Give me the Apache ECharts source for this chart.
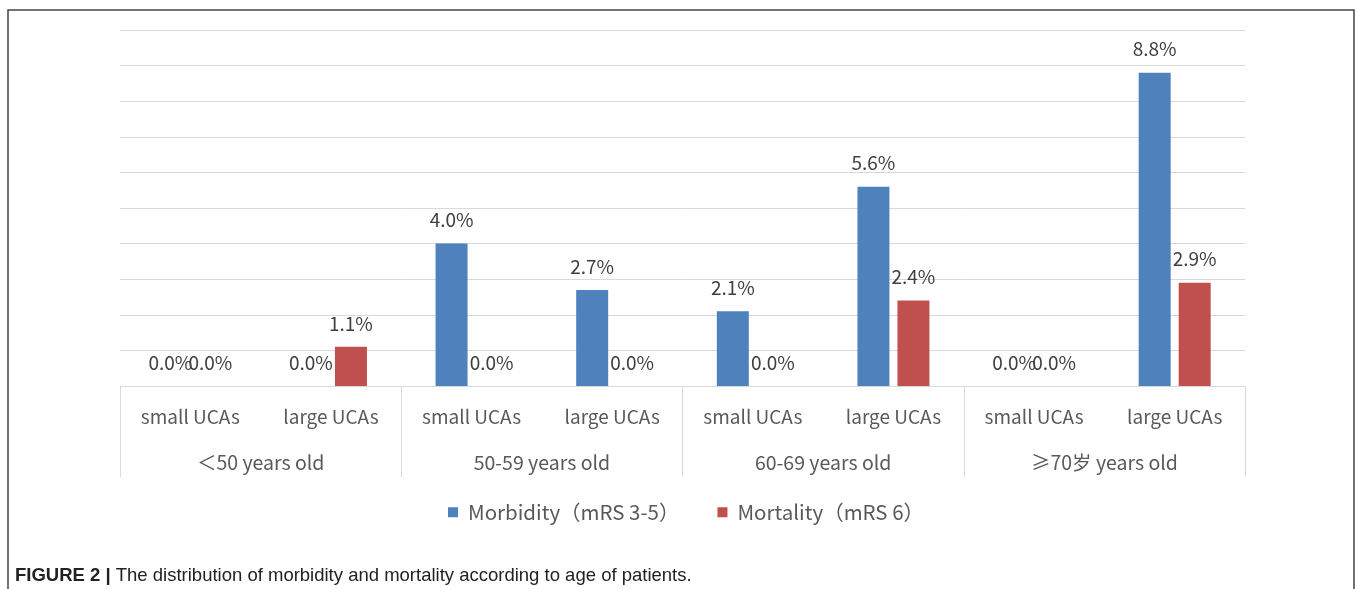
<!DOCTYPE html>
<html>
<head>
<meta charset="utf-8">
<script src="https://cdn.jsdelivr.net/npm/echarts@6/dist/echarts.min.js"></script>
<style>
  html, body { margin: 0; padding: 0; background: #fff; }
  #chart { width: 1357px; height: 589px; }
</style>
</head>
<body>
<div id="chart"></div>
<script>
// Sub-categories (bar slots) and the age groups they belong to
const categories = ['small UCAs', 'large UCAs', 'small UCAs', 'large UCAs',
                    'small UCAs', 'large UCAs', 'small UCAs', 'large UCAs'];
const ageGroups = ['＜50 years old', '50-59 years old', '60-69 years old', '≥70岁 years old'];

// Rates in percent
const morbidity = [0.0, 0.0, 4.0, 2.7, 2.1, 5.6, 0.0, 8.8];
const mortality = [0.0, 1.1, 0.0, 0.0, 0.0, 2.4, 0.0, 2.9];

const seriesNames = ['Morbidity（mRS 3-5）', 'Mortality（mRS 6）'];

const FONT = '"Noto Sans CJK SC", "Noto Sans", sans-serif';
const CAPTION_FONT = '"Liberation Sans", Arial, sans-serif';
const GRID_COLOR = '#d9d9d9';

const chart = echarts.init(document.getElementById('chart'), null, { renderer: 'canvas' });

const valueLabel = {
  show: true,
  position: 'top',
  distance: 14,
  fontFamily: FONT,
  fontSize: 19,
  color: '#404040',
  formatter: p => p.value.toFixed(1) + '%'
};

chart.setOption({
  animation: false,
  backgroundColor: '#fff',
  title: {
    left: 10,
    top: 561,
    text: '{b|FIGURE 2 |} The distribution of morbidity and mortality according to age of patients.',
    textStyle: {
      fontFamily: CAPTION_FONT,
      fontSize: 18.5,
      fontWeight: 'normal',
      color: '#222',
      rich: {
        b: { fontFamily: CAPTION_FONT, fontSize: 18.5, fontWeight: 'bold', color: '#222' }
      }
    }
  },
  graphic: [{
    type: 'polyline',
    shape: { points: [[8, 600], [8, 10], [1354, 10], [1354, 600]] },
    style: { stroke: '#444', lineWidth: 1.5, fill: null },
    silent: true
  }],
  legend: {
    left: 443,
    top: 497,
    itemWidth: 10,
    itemHeight: 10,
    itemGap: 38,
    icon: 'rect',
    textStyle: { fontFamily: FONT, fontSize: 20.5, color: '#595959', padding: [0, 0, 0, 5] },
    data: seriesNames
  },
  grid: { left: 120, right: 112, top: 30, bottom: 203, containLabel: false },
  xAxis: [{
    type: 'category',
    data: categories,
    position: 'bottom',
    axisLine: { show: true, lineStyle: { color: GRID_COLOR, width: 1 } },
    axisTick: { show: false },
    axisLabel: { interval: 0, margin: 21, fontFamily: FONT, fontSize: 19, color: '#595959' }
  }, {
    type: 'category',
    data: ageGroups,
    position: 'bottom',
    offset: 0,
    axisLine: { show: false },
    axisTick: { show: true, interval: 0, length: 91, lineStyle: { color: GRID_COLOR, width: 1 } },
    axisLabel: { interval: 0, margin: 67, fontFamily: FONT, fontSize: 19.5, color: '#595959' }
  }],
  yAxis: {
    type: 'value',
    min: 0,
    max: 10,
    interval: 1,
    axisLine: { show: false },
    axisTick: { show: false },
    axisLabel: { show: false },
    splitLine: { show: true, lineStyle: { color: GRID_COLOR, width: 1 } }
  },
  series: [{
    name: seriesNames[0],
    type: 'bar',
    xAxisIndex: 0,
    data: morbidity,
    barWidth: 32,
    barGap: '25%',
    itemStyle: { color: '#4f81bd' },
    label: valueLabel
  }, {
    name: seriesNames[1],
    type: 'bar',
    xAxisIndex: 0,
    data: mortality,
    barWidth: 32,
    barGap: '25%',
    itemStyle: { color: '#c0504d' },
    label: valueLabel
  }]
});
</script>
</body>
</html>
